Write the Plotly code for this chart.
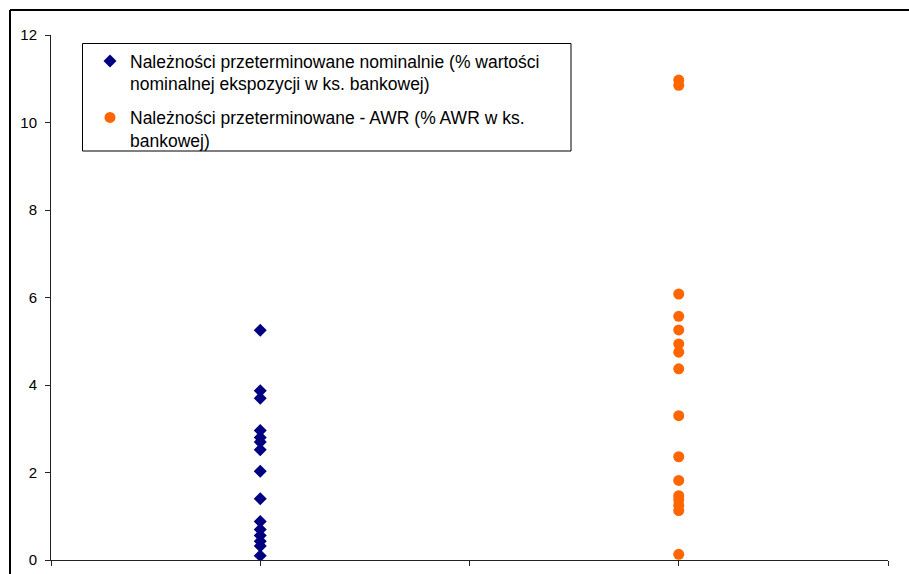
import plotly.graph_objects as go

# Overdue receivables per bank (%), two measures
nominal_label = "Należności przeterminowane nominalnie (% wartości<br>nominalnej ekspozycji w ks. bankowej)"
awr_label = "Należności przeterminowane - AWR (% AWR w ks.<br>bankowej)"

nominal_x = 1
awr_x = 3

nominal_values = [5.25, 3.87, 3.70, 2.96, 2.80, 2.70, 2.52, 2.03, 1.40,
                  0.88, 0.70, 0.56, 0.43, 0.32, 0.10]
awr_values = [10.97, 10.85, 6.08, 5.57, 5.26, 4.94, 4.75, 4.37, 3.30,
              2.36, 1.82, 1.47, 1.38, 1.25, 1.13, 0.13]

y_ticks = [0, 2, 4, 6, 8, 10, 12]
x_ticks = [0, 1, 2, 3, 4]

FONT = "Liberation Sans, Arial, sans-serif"

W, H = 909, 574
ML, MR, MT, MB = 51, 21, 35, 14
PW, PH = W - ML - MR, H - MT - MB


def px_x(px):
    return (px - ML) / PW


def px_y(py):
    return (H - MB - py) / PH


fig = go.Figure()
fig.add_trace(go.Scatter(
    x=[nominal_x] * len(nominal_values), y=nominal_values,
    mode="markers", name=nominal_label, legendgroup="a",
    marker=dict(symbol="diamond", size=10, color="#000080",
                line=dict(width=0)),
))
fig.add_trace(go.Scatter(
    x=[awr_x] * len(awr_values), y=awr_values,
    mode="markers", name=awr_label, legendgroup="b",
    marker=dict(symbol="circle", size=11, color="#FF6600",
                line=dict(width=0)),
))

fig.update_layout(
    width=W, height=H,
    margin=dict(l=ML, r=MR, t=MT, b=MB, autoexpand=False),
    paper_bgcolor="white", plot_bgcolor="white",
    font=dict(family=FONT, size=15, color="black"),
    showlegend=True,
    legend=dict(
        x=px_x(90), y=px_y(43),
        xanchor="left", yanchor="top",
        bgcolor="rgba(0,0,0,0)", borderwidth=0,
        font=dict(family=FONT, size=17.5, color="black"),
        traceorder="grouped", tracegroupgap=8,
        valign="top", itemwidth=30,
    ),
    xaxis=dict(
        range=[0, 4], tickvals=x_ticks, showticklabels=False,
        showgrid=False, zeroline=False, automargin=False,
        showline=True, linecolor="#222", linewidth=1,
        ticks="outside", ticklen=5, tickcolor="#222",
    ),
    yaxis=dict(
        range=[0, 12], tickvals=y_ticks,
        showgrid=False, zeroline=False, automargin=False,
        showline=True, linecolor="#222", linewidth=1,
        ticks="outside", ticklen=5, tickcolor="#222",
        ticklabelstandoff=5,
    ),
    shapes=[
        # legend frame
        dict(type="rect", xref="paper", yref="paper",
             x0=px_x(82.5), x1=px_x(571), y0=px_y(151), y1=px_y(43.5),
             line=dict(color="black", width=1), fillcolor="white",
             layer="below"),
        # outer frame around the chart
        dict(type="line", xref="paper", yref="paper",
             x0=px_x(10), x1=px_x(10), y0=px_y(H + 10), y1=px_y(10),
             line=dict(color="black", width=2)),
        dict(type="line", xref="paper", yref="paper",
             x0=px_x(10), x1=px_x(W + 10), y0=px_y(10), y1=px_y(10),
             line=dict(color="black", width=2)),
    ],
)

fig.write_html("out.html")
